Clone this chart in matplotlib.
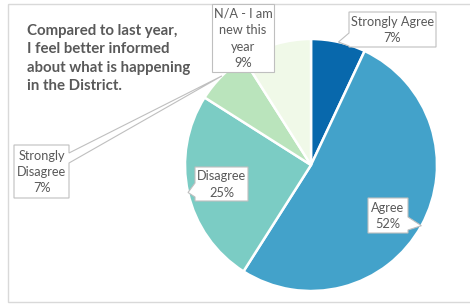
import matplotlib
matplotlib.use("Agg")
import matplotlib.pyplot as plt
import numpy as np
from matplotlib.patches import Polygon, Rectangle

categories = ["Strongly Agree", "Agree", "Disagree", "Strongly Disagree", "N/A - I am new this year"]
label_texts = ["Strongly Agree", "Agree", "Disagree", "Strongly\nDisagree", "N/A - I am\nnew this\nyear"]
values = [7, 52, 25, 7, 9]
colors = ["#0868ac", "#43a2ca", "#7bccc4", "#bae4bc", "#f0f9e8"]
title = "Compared to last year,\nI feel better informed\nabout what is happening\nin the District."

W, H = 470, 304
fig = plt.figure(figsize=(W / 100, H / 100), dpi=100)
fig.patch.set_facecolor("white")

# pie axes (center 311,165 px from top-left, radius 126 px)
cx, cy, R = 311, 165, 126
ax = fig.add_axes([(cx - R) / W, (H - cy - R) / H, 2 * R / W, 2 * R / H])
wedges, _ = ax.pie(values, colors=colors, startangle=90, counterclock=False,
                   wedgeprops=dict(edgecolor="white", linewidth=1.8))
ax.set_xlim(-1, 1)
ax.set_ylim(-1, 1)
ax.axis("off")

# overlay axes in pixel coordinates
ov = fig.add_axes([0, 0, 1, 1], facecolor="none")
ov.set_xlim(0, W)
ov.set_ylim(H, 0)
ov.axis("off")

# chart frame
ov.add_patch(Rectangle((8, 4), W, 298, fill=False, edgecolor="#d9d9d9", linewidth=1.0))

FONT = "Lato"
TXT = "#595959"
ov.text(27, 24, title, fontsize=10.8, fontweight="bold", color=TXT, family=FONT,
        va="top", ha="left", linespacing=1.4)

fig.canvas.draw()
to_px = ov.transData.inverted()

def tip_of(i):
    w = wedges[i]
    ang = np.deg2rad((w.theta1 + w.theta2) / 2)
    pt = ax.transData.transform((np.cos(ang), np.sin(ang)))
    return to_px.transform(pt)

def callout(box, text, tip=None, edge=None, a=None, b=None):
    x0, y0, x1, y1 = box
    if edge == "right":
        verts = [(x0, y0), (x1, y0), (x1, a), tuple(tip), (x1, b), (x1, y1), (x0, y1)]
    elif edge == "left":
        verts = [(x0, y0), (x1, y0), (x1, y1), (x0, y1), (x0, b), tuple(tip), (x0, a)]
    else:
        verts = [(x0, y0), (x1, y0), (x1, y1), (x0, y1)]
    ov.add_patch(Polygon(verts, closed=True, facecolor="white", edgecolor="#bfbfbf",
                         linewidth=0.8, joinstyle="miter", zorder=5))
    ov.text((x0 + x1) / 2, (y0 + y1) / 2 + 0.5, text, ha="center", va="center",
            fontsize=9.2, color=TXT, family=FONT, linespacing=1.45, zorder=6)

def lab(i):
    return f"{label_texts[i]}\n{values[i]}%"

callout((349, 12, 436, 47), lab(0), tip_of(0), "left", 33, 46)
callout((368, 198, 408, 233), lab(1), tip_of(1), "right", 217, 230)
callout((195, 167, 248, 201), lab(2), tip_of(2), "left", 183, 197)
callout((14, 145, 69, 198), lab(3), tip_of(3), "right", 153, 163)
callout((212, 4, 274, 72), lab(4))

fig.savefig("out.png", dpi=100, facecolor="white")
